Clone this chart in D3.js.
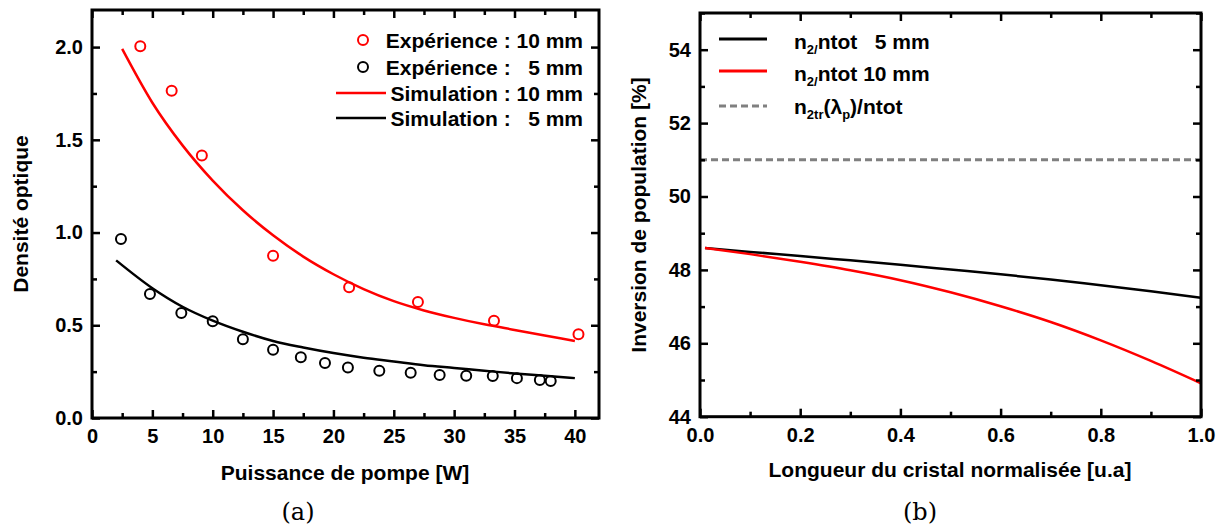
<!DOCTYPE html>
<html>
<head>
<meta charset="utf-8">
<script src="https://cdn.jsdelivr.net/npm/d3@7"></script>
<style>
  body { margin: 0; background: #fff; }
  svg text { font-family: "Liberation Sans", Arial, sans-serif; font-weight: bold; fill: #000; }
</style>
</head>
<body>
<svg id="fig" width="1227" height="530"></svg>
<script>
// ---- panel (a) data ----
var expX10 = [4.0, 6.6, 9.1, 15.0, 21.3, 27.0, 33.3, 40.3];
var expY10 = [2.005, 1.765, 1.415, 0.875, 0.705, 0.625, 0.525, 0.452];
var expX5 = [2.4, 4.8, 7.4, 10.0, 12.5, 15.0, 17.3, 19.3, 21.2, 23.8, 26.4, 28.8, 31.0, 33.2, 35.2, 37.1, 38.0];
var expY5 = [0.965, 0.668, 0.566, 0.522, 0.424, 0.368, 0.328, 0.296, 0.272, 0.255, 0.244, 0.232, 0.228, 0.226, 0.215, 0.205, 0.2];
var simX = [2.5, 5, 7.5, 10, 12.5, 15, 17.5, 20, 22.5, 25, 27.5, 30, 32.5, 35, 37.5, 40];
var simY10 = [1.99, 1.70, 1.47, 1.28, 1.12, 0.985, 0.87, 0.775, 0.695, 0.63, 0.58, 0.54, 0.505, 0.475, 0.445, 0.415];
var simX5 = [2.0, 5, 7.5, 10, 12.5, 15, 17.5, 20, 22.5, 25, 27.5, 30, 32.5, 35, 37.5, 40];
var simY5 = [0.85, 0.70, 0.60, 0.525, 0.465, 0.415, 0.38, 0.35, 0.325, 0.305, 0.285, 0.27, 0.255, 0.24, 0.228, 0.215];
var legendA = ['Expérience : 10 mm', 'Expérience :   5 mm', 'Simulation : 10 mm', 'Simulation :   5 mm'];

// ---- panel (b) data ----
var lenX = [0.01, 0.1, 0.2, 0.3, 0.4, 0.5, 0.6, 0.7, 0.8, 0.9, 1.0];
var inv5 = [48.6, 48.49, 48.38, 48.26, 48.14, 48.01, 47.88, 47.74, 47.58, 47.42, 47.24];
var inv10 = [48.6, 48.43, 48.22, 47.99, 47.72, 47.39, 47.01, 46.58, 46.08, 45.52, 44.91];
var transp = 51.0;

var svg = d3.select('#fig');
var red = '#ff0000';

// frame + inward ticks on all four sides
function drawFrame(g, x, y, xMajor, xMinor, yMajor, yMinor, xFmt, yFmt, xPad, yPad) {
    var w = x.range()[1] - x.range()[0];
    var h = y.range()[0] - y.range()[1];
    var x0 = x.range()[0], y0 = y.range()[1];
    function axisStyle(a) {
        a.select('.domain').remove();
        a.selectAll('line').attr('stroke', '#000').attr('stroke-width', 2.5);
        a.selectAll('text').attr('font-size', 20);
    }
    g.append('g').attr('transform', 'translate(0,' + (y0 + h) + ')')
        .call(d3.axisBottom(x).tickValues(xMajor).tickSize(-8).tickPadding(xPad).tickFormat(xFmt)).call(axisStyle);
    g.append('g').attr('transform', 'translate(0,' + (y0 + h) + ')')
        .call(d3.axisBottom(x).tickValues(xMinor).tickSize(-5).tickFormat('')).call(axisStyle);
    g.append('g').attr('transform', 'translate(0,' + y0 + ')')
        .call(d3.axisTop(x).tickValues(xMajor).tickSize(-8).tickFormat('')).call(axisStyle);
    g.append('g').attr('transform', 'translate(0,' + y0 + ')')
        .call(d3.axisTop(x).tickValues(xMinor).tickSize(-5).tickFormat('')).call(axisStyle);
    g.append('g').attr('transform', 'translate(' + x0 + ',0)')
        .call(d3.axisLeft(y).tickValues(yMajor).tickSize(-8).tickPadding(yPad).tickFormat(yFmt)).call(axisStyle);
    g.append('g').attr('transform', 'translate(' + x0 + ',0)')
        .call(d3.axisLeft(y).tickValues(yMinor).tickSize(-5).tickFormat('')).call(axisStyle);
    g.append('g').attr('transform', 'translate(' + (x0 + w) + ',0)')
        .call(d3.axisRight(y).tickValues(yMajor).tickSize(-8).tickFormat('')).call(axisStyle);
    g.append('g').attr('transform', 'translate(' + (x0 + w) + ',0)')
        .call(d3.axisRight(y).tickValues(yMinor).tickSize(-5).tickFormat('')).call(axisStyle);
    g.append('rect')
        .attr('x', x0).attr('y', y0).attr('width', w).attr('height', h)
        .attr('fill', 'none').attr('stroke', '#000').attr('stroke-width', 3);
}

function range(a, b, s) {
    var out = [];
    for (var v = a; v <= b + 1e-9; v += s) out.push(+v.toFixed(4));
    return out;
}

// ================= panel (a) =================
var xa = d3.scaleLinear().domain([0, 42]).range([92, 599]);
var ya = d3.scaleLinear().domain([0, 2.2]).range([418, 10]);
var ga = svg.append('g');

var lineA = d3.line().x(function(d) { return xa(d[0]); }).y(function(d) { return ya(d[1]); })
    .curve(d3.curveMonotoneX);
ga.append('path').datum(d3.zip(simX, simY10)).attr('d', lineA)
    .attr('fill', 'none').attr('stroke', red).attr('stroke-width', 2.5);
ga.append('path').datum(d3.zip(simX5, simY5)).attr('d', lineA)
    .attr('fill', 'none').attr('stroke', '#000').attr('stroke-width', 2.5);

ga.selectAll('circle.e10').data(d3.zip(expX10, expY10)).enter().append('circle')
    .attr('cx', function(d) { return xa(d[0]); }).attr('cy', function(d) { return ya(d[1]); })
    .attr('r', 5).attr('fill', 'none').attr('stroke', red).attr('stroke-width', 2);
ga.selectAll('circle.e5').data(d3.zip(expX5, expY5)).enter().append('circle')
    .attr('cx', function(d) { return xa(d[0]); }).attr('cy', function(d) { return ya(d[1]); })
    .attr('r', 5).attr('fill', 'none').attr('stroke', '#000').attr('stroke-width', 2);

drawFrame(ga, xa, ya, range(0, 40, 5), range(2.5, 40, 5), range(0, 2, 0.5), range(0.25, 2, 0.5),
    d3.format('d'), d3.format('.1f'), 11, 9);

// legend (a)
var legRowY = [40, 67, 93, 118];
legendA.forEach(function(t, i) {
    var cy = legRowY[i];
    var col = (i % 2 === 0) ? red : '#000';
    if (i < 2) {
        ga.append('circle').attr('cx', 363).attr('cy', cy).attr('r', 5)
            .attr('fill', 'none').attr('stroke', col).attr('stroke-width', 2);
    } else {
        ga.append('line').attr('x1', 336).attr('x2', 386).attr('y1', cy).attr('y2', cy)
            .attr('stroke', col).attr('stroke-width', 2.5);
    }
    ga.append('text').attr('x', 583).attr('y', cy).attr('dy', '0.36em')
        .attr('text-anchor', 'end').attr('font-size', 21)
        .attr('xml:space', 'preserve').style('white-space', 'pre').text(t);
});

ga.append('text').attr('x', 345).attr('y', 480).attr('text-anchor', 'middle')
    .attr('font-size', 21).text('Puissance de pompe [W]');
ga.append('text').attr('transform', 'translate(28,214) rotate(-90)').attr('text-anchor', 'middle')
    .attr('font-size', 21).text('Densité optique');
ga.append('text').attr('x', 298).attr('y', 520).attr('text-anchor', 'middle')
    .style('font-family', '"DejaVu Serif", serif').style('font-weight', 'normal')
    .attr('font-size', 24).text('(a)');

// ================= panel (b) =================
var xb = d3.scaleLinear().domain([0, 1]).range([700, 1201]);
var yb = d3.scaleLinear().domain([44, 55]).range([416.7, 13]);
var gb = svg.append('g');

var lineB = d3.line().x(function(d) { return xb(d[0]); }).y(function(d) { return yb(d[1]); })
    .curve(d3.curveMonotoneX);
gb.append('line').attr('x1', xb(0)).attr('x2', xb(1)).attr('y1', yb(transp)).attr('y2', yb(transp))
    .attr('stroke', '#808080').attr('stroke-width', 3).attr('stroke-dasharray', '7,4');
gb.append('path').datum(d3.zip(lenX, inv5)).attr('d', lineB)
    .attr('fill', 'none').attr('stroke', '#000').attr('stroke-width', 2.5);
gb.append('path').datum(d3.zip(lenX, inv10)).attr('d', lineB)
    .attr('fill', 'none').attr('stroke', red).attr('stroke-width', 2.5);

drawFrame(gb, xb, yb, range(0, 1, 0.2), range(0.1, 0.9, 0.2), range(44, 54, 2), range(45, 55, 2),
    d3.format('.1f'), d3.format('d'), 11, 9);

// legend (b)
var legB = [{y: 39, col: '#000', dash: null}, {y: 71, col: red, dash: null}, {y: 106, col: '#808080', dash: '7,4'}];
legB.forEach(function(l) {
    var ln = gb.append('line').attr('x1', 719).attr('x2', 767).attr('y1', l.y).attr('y2', l.y)
        .attr('stroke', l.col).attr('stroke-width', 3);
    if (l.dash) ln.attr('stroke-dasharray', l.dash);
});
function subText(y, parts) {
    var t = gb.append('text').attr('x', 794).attr('y', y).attr('dy', '0.36em').attr('font-size', 21)
        .attr('xml:space', 'preserve').style('white-space', 'pre');
    parts.forEach(function(p) {
        var s = t.append('tspan').text(p[0]);
        if (p[1] === 'sub') s.attr('font-size', 13).attr('dy', 5);
        if (p[1] === 'up') s.attr('dy', -5);
    });
}
subText(41, [['n'], ['2/', 'sub'], ['ntot   5 mm', 'up']]);
subText(73, [['n'], ['2/', 'sub'], ['ntot 10 mm', 'up']]);
subText(106, [['n'], ['2tr', 'sub'], ['(λ', 'up'], ['p', 'sub'], [')/ntot', 'up']]);

gb.append('text').attr('x', 950).attr('y', 477).attr('text-anchor', 'middle')
    .attr('font-size', 21).text('Longueur du cristal normalisée [u.a]');
gb.append('text').attr('transform', 'translate(646,215) rotate(-90)').attr('text-anchor', 'middle')
    .attr('font-size', 21).text('Inversion de population [%]');
gb.append('text').attr('x', 920).attr('y', 520).attr('text-anchor', 'middle')
    .style('font-family', '"DejaVu Serif", serif').style('font-weight', 'normal')
    .attr('font-size', 24).text('(b)');
</script>
</body>
</html>
